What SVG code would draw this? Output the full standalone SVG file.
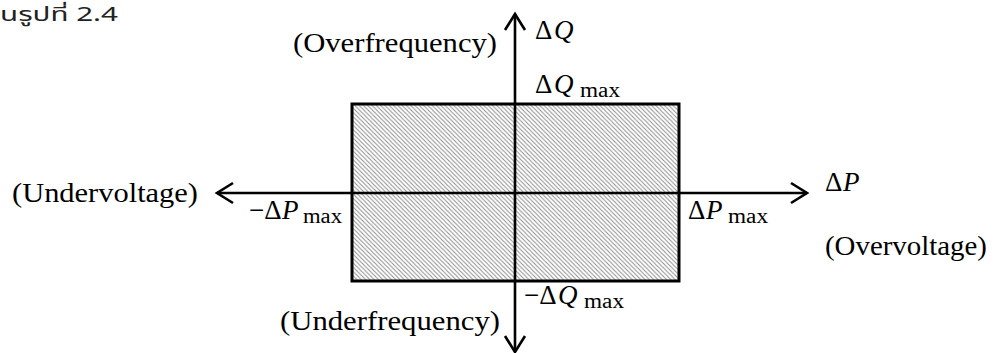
<svg xmlns="http://www.w3.org/2000/svg" width="996" height="353" viewBox="0 0 996 353">
<style>
.lbl{font-family:"Liberation Serif","Times New Roman",serif;font-size:28px;fill:#000}
.m{font-family:"Liberation Serif","Times New Roman",serif;font-size:27px;fill:#000}
.it{font-style:italic}
.sub{font-size:20px}
.axis{stroke:#000;stroke-width:2.6;fill:none}
.thai{font-family:"Noto Sans Thai","Noto Sans","DejaVu Sans",sans-serif;font-size:19px;fill:#222}
</style>
<defs>
<pattern id="hatch" patternUnits="userSpaceOnUse" width="4.3" height="4.3">
<rect width="4.3" height="4.3" fill="#fff"/>
<path d="M-1,-1 L5.3,5.3 M3.3,-1 L5.3,1 M-1,3.3 L1,5.3" stroke="#8c8c8c" stroke-width="1"/>
</pattern>
<marker id="chev" markerUnits="userSpaceOnUse" viewBox="-20 -12 24 24" refX="0" refY="0" markerWidth="24" markerHeight="24" orient="auto-start-reverse" overflow="visible">
<path d="M-16,-10 L0,0 L-16,10" fill="none" stroke="#000" stroke-width="2.6"/>
</marker>
</defs>
<rect width="996" height="353" fill="#fff"/>
<text class="thai" x="0" y="21" textLength="118" lengthAdjust="spacingAndGlyphs">นรูปที่ 2.4</text>
<g id="region">
<rect x="352" y="104" width="327" height="177" fill="url(#hatch)" stroke="#000" stroke-width="3"/>
</g>
<g id="connectors">
<line class="axis" x1="217" y1="193" x2="807" y2="193" marker-start="url(#chev)" marker-end="url(#chev)"/>
<line class="axis" x1="515" y1="352" x2="515" y2="14" marker-start="url(#chev)" marker-end="url(#chev)"/>
</g>
<g id="label-overfrequency"><text class="lbl" x="293" y="52" textLength="204" lengthAdjust="spacingAndGlyphs">(Overfrequency)</text></g>
<g id="label-underfrequency"><text class="lbl" x="280" y="330" textLength="220" lengthAdjust="spacingAndGlyphs">(Underfrequency)</text></g>
<g id="label-undervoltage"><text class="lbl" x="12" y="202" textLength="186" lengthAdjust="spacingAndGlyphs">(Undervoltage)</text></g>
<g id="label-overvoltage"><text class="lbl" x="825" y="255" textLength="162" lengthAdjust="spacingAndGlyphs">(Overvoltage)</text></g>
<g id="label-dQ"><text class="m" x="535" y="39">Δ<tspan class="it" x="554">Q</tspan></text></g>
<g id="label-dQmax"><text class="m" x="535" y="93">Δ<tspan class="it" x="554">Q</tspan><tspan class="sub" x="580" y="97" textLength="40" lengthAdjust="spacingAndGlyphs">max</tspan></text></g>
<g id="label-ndQmax"><text class="m" x="524" y="304">−Δ<tspan class="it" x="558">Q</tspan><tspan class="sub" x="584" y="308" textLength="40" lengthAdjust="spacingAndGlyphs">max</tspan></text></g>
<g id="label-dP"><text class="m" x="825" y="191">Δ<tspan class="it" x="843">P</tspan></text></g>
<g id="label-dPmax"><text class="m" x="688" y="219">Δ<tspan class="it" x="706">P</tspan><tspan class="sub" x="728" y="223" textLength="40" lengthAdjust="spacingAndGlyphs">max</tspan></text></g>
<g id="label-ndPmax"><text class="m" x="249" y="219">−Δ<tspan class="it" x="282">P</tspan><tspan class="sub" x="303" y="223" textLength="39" lengthAdjust="spacingAndGlyphs">max</tspan></text></g>
</svg>
